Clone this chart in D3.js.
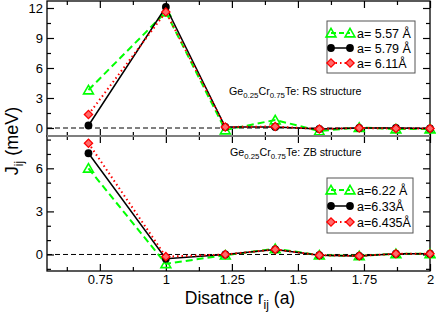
<!DOCTYPE html>
<html><head><meta charset="utf-8">
<script src="https://cdn.jsdelivr.net/npm/d3@7"></script>
<style>body{margin:0;background:#fff} svg{display:block} svg text{fill:#000}</style>
</head><body>
<svg id="c" width="436" height="314"></svg>
<script>
// ---- data ----
const distances = [0.707, 1, 1.225, 1.414, 1.581, 1.732, 1.871, 2];
const rsLabels = ["a= 5.57 Å", "a= 5.79 Å", "a= 6.11Å"];
const rs557 = [3.8, 11.6, -0.2, 0.8, -0.3, 0.05, -0.1, -0.1];
const rs579 = [0.25, 12.1, 0.1, 0.1, -0.1, 0, 0, -0.05];
const rs611 = [1.35, 11.6, 0.1, 0.15, -0.1, 0, -0.05, -0.05];
const zbLabels = ["a=6.22 Å", "a=6.33Å", "a=6.435Å"];
const zb622 = [6.0, -0.65, -0.05, 0.4, -0.05, -0.1, 0.05, 0.05];
const zb633 = [7.05, -0.3, 0, 0.35, -0.05, -0.1, 0.05, 0.05];
const zb6435 = [7.75, -0.15, 0, 0.35, -0.05, -0.1, 0.05, 0.05];
const xTicks = [0.75, 1, 1.25, 1.5, 1.75, 2];
const xMinor = [0.625, 0.875, 1.125, 1.375, 1.625, 1.875];
const rsTicks = [0, 3, 6, 9, 12];
const rsMinor = [1.5, 4.5, 7.5, 10.5];
const zbTicks = [0, 3, 6];
const zbMinor = [-1, 1, 2, 4, 5, 7, 8];

// ---- layout ----
const FONT = '"Liberation Sans", Arial, sans-serif';
const svg = d3.select("#c");
const L = 47, R = 430, T = 1, MID = 136, B = 271;
const x = d3.scaleLinear().domain([0.55, 2]).range([L, R]);
const yTop = d3.scaleLinear().domain([-0.8, 12.7]).range([MID, T]);
const yBot = d3.scaleLinear().domain([-1.15, 8.25]).range([B, MID]);

const styles = [
  {color: "#00ff00", dash: "7,4", width: 2, sym: "tri"},
  {color: "#000000", dash: null, width: 1.5, sym: "circ"},
  {color: "#ff0000", dash: "1.5,3", width: 2, sym: "dia"}
];

function marker(g, sym, cx, cy) {
  if (sym === "tri") {
    g.append("path").attr("d", d3.symbol(d3.symbolTriangle).size(42)())
      .attr("transform", `translate(${cx},${cy+1})`)
      .attr("fill", "none").attr("stroke", "#00ff00").attr("stroke-width", 1.6);
  } else if (sym === "circ") {
    g.append("circle").attr("cx", cx).attr("cy", cy).attr("r", 3.9).attr("fill", "#000");
  } else {
    g.append("path").attr("d", d3.symbol(d3.symbolSquare).size(34)())
      .attr("transform", `translate(${cx},${cy}) rotate(45)`)
      .attr("fill", "#ff6a6a").attr("stroke", "#ff0000").attr("stroke-width", 1.3);
  }
}

function panel(y, series, yt, ym, labels, legendTop, legendW, legendStep, annot, annotY) {
  svg.append("line").attr("x1", L).attr("x2", R).attr("y1", y(0)).attr("y2", y(0))
    .attr("stroke", "#000").attr("stroke-width", 1).attr("stroke-dasharray", "5,3");
  const [y0, y1] = y.range();
  svg.append("g").attr("transform", `translate(${L},0)`)
    .call(d3.axisLeft(y).tickValues(yt).tickSizeInner(-7).tickSizeOuter(0).tickPadding(4).tickFormat(d3.format("")));
  svg.append("g").attr("transform", `translate(${L},0)`)
    .call(d3.axisLeft(y).tickValues(ym).tickSizeInner(-4).tickSizeOuter(0).tickFormat(""));
  svg.append("g").attr("transform", `translate(${R},0)`)
    .call(d3.axisRight(y).tickValues(yt).tickSizeInner(-7).tickSizeOuter(0).tickFormat(""));
  svg.append("g").attr("transform", `translate(${R},0)`)
    .call(d3.axisRight(y).tickValues(ym).tickSizeInner(-4).tickSizeOuter(0).tickFormat(""));
  svg.append("g").attr("transform", `translate(0,${y1})`)
    .call(d3.axisTop(x).tickValues(xTicks).tickSizeInner(-7).tickSizeOuter(0).tickFormat(""));
  svg.append("g").attr("transform", `translate(0,${y1})`)
    .call(d3.axisTop(x).tickValues(xMinor).tickSizeInner(-4).tickSizeOuter(0).tickFormat(""));
  svg.append("g").attr("transform", `translate(0,${y0})`)
    .call(d3.axisBottom(x).tickValues(xTicks).tickSizeInner(-7).tickSizeOuter(0).tickPadding(4)
      .tickFormat(y === yBot ? d3.format("") : ""));
  svg.append("g").attr("transform", `translate(0,${y0})`)
    .call(d3.axisBottom(x).tickValues(xMinor).tickSizeInner(-4).tickSizeOuter(0).tickFormat(""));
  svg.selectAll(".domain").remove();
  svg.selectAll("g[font-family]").attr("font-family", FONT).attr("font-size", 13);
  svg.selectAll(".tick line").attr("stroke", "#000").attr("stroke-width", 1.2);
  svg.selectAll(".tick text").attr("font-size", 13).attr("font-family", FONT);
  svg.append("rect").attr("x", L).attr("y", y1).attr("width", R - L).attr("height", y0 - y1)
    .attr("fill", "none").attr("stroke", "#000").attr("stroke-width", 1.3);

  series.forEach((vals, i) => {
    const st = styles[i];
    const pts = distances.map((d, k) => [x(d), y(vals[k])]);
    svg.append("path").attr("d", d3.line()(pts)).attr("fill", "none")
      .attr("stroke", st.color).attr("stroke-width", st.width)
      .attr("stroke-dasharray", st.dash);
    const g = svg.append("g");
    pts.forEach(p => marker(g, st.sym, p[0], p[1]));
  });

  const t = svg.append("text").attr("x", annot.x).attr("y", annotY).attr("font-size", 10.7).attr("font-family", FONT);
  t.append("tspan").text("Ge");
  t.append("tspan").attr("font-size", 7.8).attr("dy", 3).text("0.25");
  t.append("tspan").attr("dy", -3).text("Cr");
  t.append("tspan").attr("font-size", 7.8).attr("dy", 3).text("0.75");
  t.append("tspan").attr("dy", -3).text(annot.text);

  const lx = 327, ly = legendTop;
  const h = legendStep * 3 + 7;
  svg.append("rect").attr("x", lx).attr("y", ly).attr("width", legendW).attr("height", h)
    .attr("fill", "#fff").attr("stroke", "#555").attr("stroke-width", 1);
  labels.forEach((lab, i) => {
    const st = styles[i];
    const cy = ly + 12 + i * legendStep;
    svg.append("line").attr("x1", 331).attr("x2", 350).attr("y1", cy).attr("y2", cy)
      .attr("stroke", st.color).attr("stroke-width", st.width).attr("stroke-dasharray", st.dash ? (i === 0 ? "5,3" : "1.5,3") : null);
    const g = svg.append("g");
    marker(g, st.sym, 331, cy);
    marker(g, st.sym, 350, cy);
    svg.append("text").attr("x", 357).attr("y", cy + 4.5).attr("font-size", 12.5).attr("font-family", FONT).text(lab);
  });
}

panel(yTop, [rs557, rs579, rs611], rsTicks, rsMinor, rsLabels, 21, 88, 15,
  {x: 229, text: "Te: RS structure"}, 95);
panel(yBot, [zb622, zb633, zb6435], zbTicks, zbMinor, zbLabels, 178, 86, 16,
  {x: 230, text: "Te: ZB structure"}, 156);

svg.append("line").attr("x1", L).attr("x2", R).attr("y1", MID).attr("y2", MID)
  .attr("stroke", "#7f7f7f").attr("stroke-width", 2);

const xt = svg.append("text").attr("x", 240).attr("y", 304).attr("text-anchor", "middle").attr("font-size", 17.5).attr("font-family", FONT);
xt.append("tspan").text("Disatnce r");
xt.append("tspan").attr("font-size", 12).attr("dy", 5).text("ij");
xt.append("tspan").attr("dy", -5).text(" (a)");

const ytl = svg.append("text").attr("transform", "translate(17.5,141) rotate(-90)")
  .attr("text-anchor", "middle").attr("font-size", 18).attr("font-family", FONT);
ytl.append("tspan").text("J");
ytl.append("tspan").attr("font-size", 12).attr("dy", 5).text("ij");
ytl.append("tspan").attr("dy", -5).text(" (meV)");
</script>
</body></html>
